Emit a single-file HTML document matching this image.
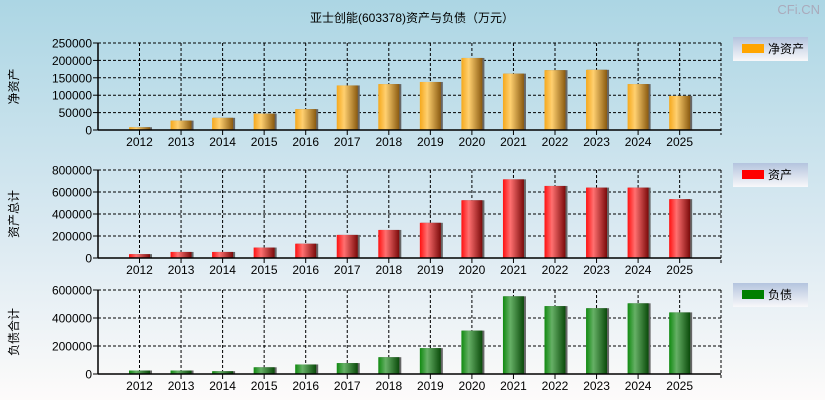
<!DOCTYPE html>
<html><head><meta charset="utf-8"><style>
html,body{margin:0;padding:0;}
body{width:825px;height:400px;overflow:hidden;background:linear-gradient(#acd6e4,#dceaf2 60%,#fdfbfa);font-family:"Liberation Sans","Noto Sans CJK SC",sans-serif;}
svg{display:block;}
svg text{font-family:"Liberation Sans","Noto Sans CJK SC",sans-serif;}
</style></head><body>
<svg id="c" width="825" height="400" xmlns="http://www.w3.org/2000/svg">
<defs>
<linearGradient id="gO" x1="0" x2="1"><stop offset="0" stop-color="#f5a81c"/><stop offset="0.35" stop-color="#ffd070"/><stop offset="1" stop-color="#8a5a10"/></linearGradient>
<linearGradient id="gR" x1="0" x2="1"><stop offset="0" stop-color="#ff1010"/><stop offset="0.35" stop-color="#ff7070"/><stop offset="1" stop-color="#7a0a0a"/></linearGradient>
<linearGradient id="gG" x1="0" x2="1"><stop offset="0" stop-color="#108a10"/><stop offset="0.35" stop-color="#66b066"/><stop offset="1" stop-color="#0a4a0a"/></linearGradient>
<linearGradient id="gL" x1="0" x2="0" y1="0" y2="1"><stop offset="0" stop-color="#b4c4de"/><stop offset="1" stop-color="#f8f8fa"/></linearGradient>
</defs>
<text x="412" y="22" font-size="12" text-anchor="middle" fill="#000">亚士创能(603378)资产与负债（万元）</text>
<text x="820" y="14" font-size="13" text-anchor="end" fill="#aab">CFi.CN</text>
</svg>
<script>
const years=['2012','2013','2014','2015','2016','2017','2018','2019','2020','2021','2022','2023','2024','2025'];
const netAssets=[8000,27000,35000,47000,60000,128000,132000,138000,207000,162000,172000,173000,132000,98000];
const totalAssets=[35000,55000,55000,95000,130000,210000,255000,320000,525000,715000,655000,640000,640000,535000];
const totalLiab=[25000,25000,20000,48000,68000,78000,120000,185000,310000,555000,485000,470000,505000,440000];
const ticks1=[0,50000,100000,150000,200000,250000];
const ticks2=[0,200000,400000,600000,800000];
const ticks3=[0,200000,400000,600000];
const panels=[
 {name:'net-assets',data:netAssets,ticks:ticks1,max:250000,top:43,bot:130,fill:'url(#gO)',lc:'#ffa500',lbl:'净资产',ylab:'净资产',ly:37},
 {name:'total-assets',data:totalAssets,ticks:ticks2,max:800000,top:170,bot:258,fill:'url(#gR)',lc:'#ff0000',lbl:'资产',ylab:'资产总计',ly:163},
 {name:'total-liabilities',data:totalLiab,ticks:ticks3,max:600000,top:290,bot:374,fill:'url(#gG)',lc:'#008000',lbl:'负债',ylab:'负债合计',ly:283}
];
const svg=document.getElementById('c');const NS='http://www.w3.org/2000/svg';
function mk(t,a,p){const e=document.createElementNS(NS,t);for(const k in a)e.setAttribute(k,a[k]);(p||svg).appendChild(e);return e;}
const L=98,R=721;
function xs(i){return 139.5+i*41.55;}
panels.forEach(p=>{
 const g=mk('g',{});
 
 
 const ys=v=>p.bot-(v/p.max)*(p.bot-p.top);
 p.ticks.forEach(t=>{
  const y=ys(t);
  if(t>0){const l=mk('line',{x1:L,x2:R,y1:y,y2:y,stroke:'#000','stroke-dasharray':'3,2','stroke-width':1},g);}
  mk('line',{x1:L-5,x2:L,y1:y,y2:y,stroke:'#000'},g);
  const tx=mk('text',{x:L-6,y:y+4.5,'font-size':12,'text-anchor':'end',fill:'#000'},g);tx.textContent=t;
  
 });
 years.forEach((yr,i)=>{
  const x=xs(i);
  mk('line',{x1:x,x2:x,y1:p.top,y2:p.bot,stroke:'#000','stroke-dasharray':'3,2'},g);
  mk('line',{x1:x,x2:x,y1:p.bot,y2:p.bot+5,stroke:'#000'},g);
  const tx=mk('text',{x:x,y:p.bot+16,'font-size':12,'text-anchor':'middle',fill:'#000'},g);tx.textContent=yr;
  
  const y=ys(p.data[i]);
  mk('rect',{x:x-9.5,y:y,width:22,height:p.bot-y,fill:'#666'},g);
  const b=mk('rect',{x:x-10.5,y:y,width:21,height:p.bot-y,fill:p.fill},g);
  
 });
 mk('line',{x1:R,x2:R,y1:p.top,y2:p.bot+5,stroke:'#000','stroke-dasharray':'3,2'},g);
 mk('line',{x1:L,x2:L,y1:p.top,y2:p.bot,stroke:'#000','stroke-width':1.5},g);
 mk('line',{x1:L,x2:R,y1:p.bot,y2:p.bot,stroke:'#000','stroke-width':1.5},g);
 const cy=(p.top+p.bot)/2;
 const yl=mk('text',{x:0,y:0,'font-size':12,'text-anchor':'middle',fill:'#000',transform:`translate(18,${cy}) rotate(-90)`},g);yl.textContent=p.ylab;
 
 const lg=mk('g',{},g);
 
 mk('rect',{x:733,y:p.ly,width:75,height:24,fill:'url(#gL)'},lg);
 mk('rect',{x:742,y:p.ly+7,width:22,height:9,fill:p.lc},lg);
 const lt=mk('text',{x:768,y:p.ly+16,'font-size':12,fill:'#000'},lg);lt.textContent=p.lbl;
});
</script>
</body></html>
